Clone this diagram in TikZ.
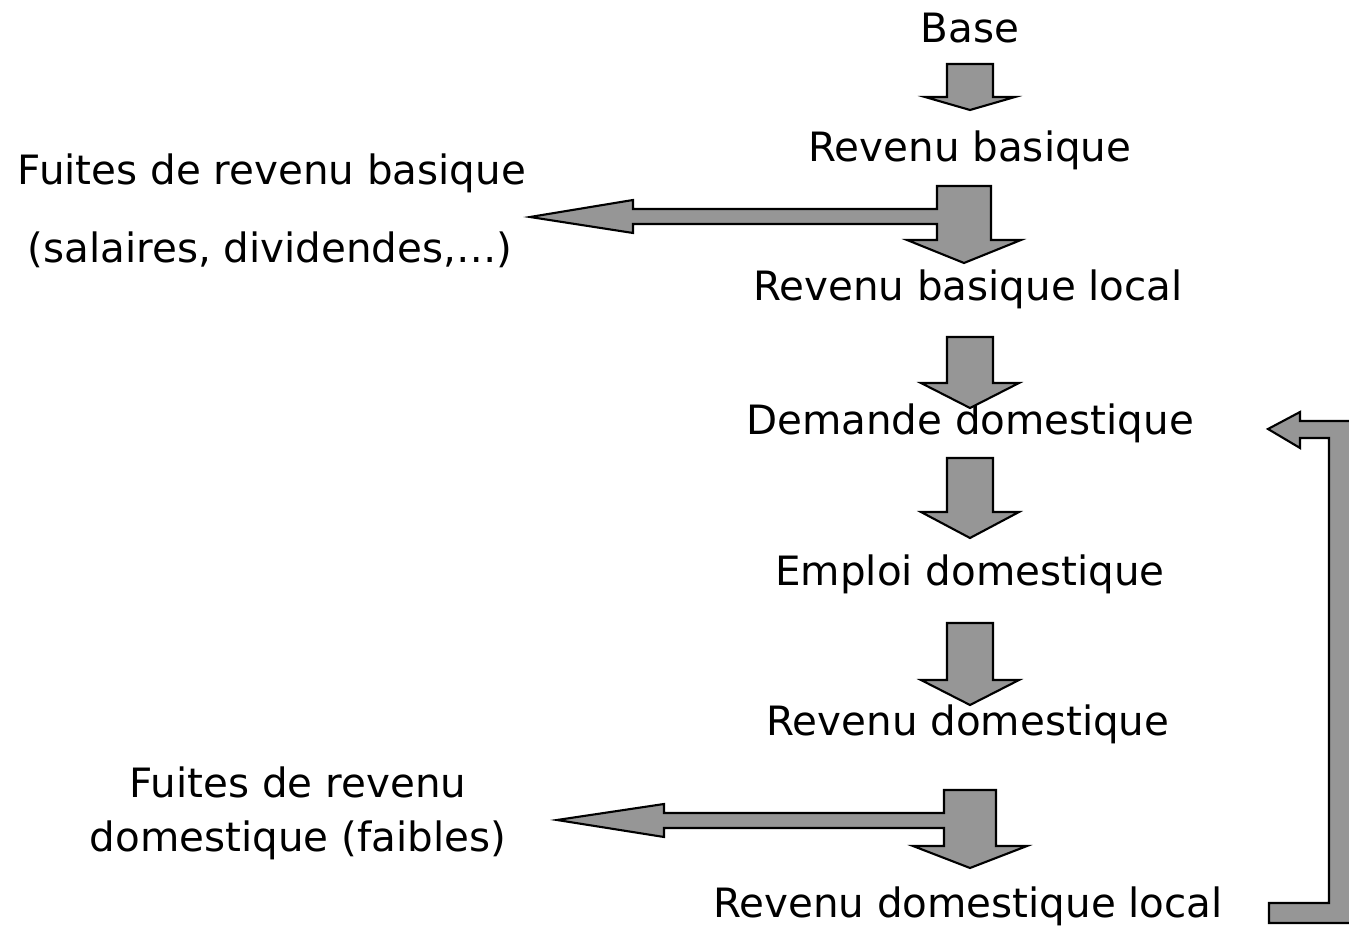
\documentclass[tikz,border=0pt]{standalone}
\usepackage{fontspec}
\setmainfont{DejaVu Sans}
\usetikzlibrary{positioning}
\definecolor{blockgray}{RGB}{150,150,150}
\tikzset{
  txt/.style={font=\fontsize{23}{28}\selectfont, inner sep=0pt, anchor=base},
  block/.style={draw=black, fill=blockgray, line width=1.2pt, line join=miter},
  pics/downblock/.style n args={3}{code={
    \draw[block] (-23,0) -- (23,0) -- (23,#1) -- (#3,#1) -- (0,#2)
      -- (-#3,#1) -- (-23,#1) -- cycle;}},
}
\begin{document}
\begin{tikzpicture}[x=0.02cm, y=-0.02cm]
	\clip (0,0) rectangle (1349,928);
	% texts
	\node[txt] (base) at (970,43) {Base};
	\node[txt] (rb) at (970,162) {Revenu basique};
	\node[txt] (fb) at (272,185) {Fuites de revenu basique};
	\node[txt] (fbs) at (270,263) {(salaires, dividendes,…)};
	\node[txt] (rbl) at (968,301) {Revenu basique local};
	\node[txt] (dd) at (970,435) {Demande domestique};
	\node[txt] (ed) at (970,586) {Emploi domestique};
	\node[txt] (rd) at (968,736) {Revenu domestique};
	\node[txt] (fd) at (298,797) {Fuites de revenu};
	\node[txt] (fds) at (298,851) {domestique (faibles)};
	\node[txt] (rdl) at (968,917) {Revenu domestique local};
	
	% simple down arrows
	\coordinate (a1) at (970,64);
	\coordinate (a3) at (970,337);
	\coordinate (a4) at (970,458);
	\coordinate (a5) at (970,623);
	\pic at (a1) {downblock={33}{46}{45}};
	\pic at (a3) {downblock={46}{71}{49}};
	\pic at (a4) {downblock={54}{80}{49}};
	\pic at (a5) {downblock={57}{82}{49}};
	
	% down arrows with a leak to the left
	\draw[block] (937,186) -- (991,186) -- (991,240) -- (1021,240) -- (964,263)
		-- (907,240) -- (937,240) -- (937,224) -- (633,224) -- (633,233)
		-- (530,217) -- (633,200) -- (633,209) -- (937,209) -- cycle;
	\draw[block] (944,790) -- (996,790) -- (996,846) -- (1027,846) -- (970,868)
		-- (913,846) -- (944,846) -- (944,828) -- (664,828) -- (664,837)
		-- (557,820) -- (664,804) -- (664,813) -- (944,813) -- cycle;
	
	% feedback loop
	\draw[block] (1269,903) -- (1329,903) -- (1329,438) -- (1300,438) -- (1300,448)
		-- (1268,429) -- (1300,412) -- (1300,421) -- (1360,421) -- (1360,923)
		-- (1269,923) -- cycle;
\end{tikzpicture}
\end{document}
